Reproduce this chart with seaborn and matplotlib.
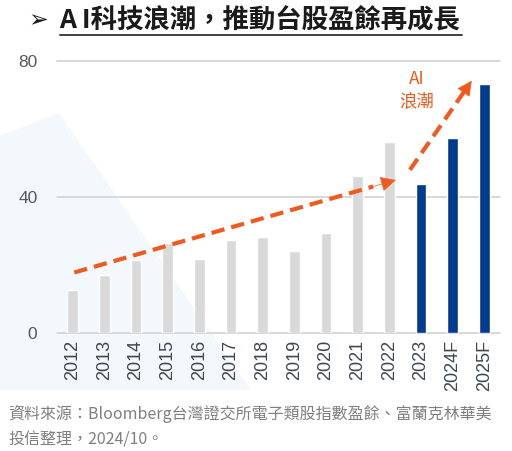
import matplotlib
matplotlib.use("Agg")
import matplotlib.pyplot as plt
import seaborn as sns
import pandas as pd
from matplotlib.lines import Line2D
from matplotlib.patches import Polygon

# ---- data ----
years = ["2012", "2013", "2014", "2015", "2016", "2017", "2018",
         "2019", "2020", "2021", "2022", "2023", "2024F", "2025F"]
earnings = [12.6, 17.2, 21.6, 26.4, 21.9, 27.4, 28.3,
            24.1, 29.5, 46.2, 56.2, 43.8, 57.5, 73.2]
highlight = [False] * 11 + [True] * 3

yticks = [0, 40, 80]

# trend arrows (category index, value)
trend_start = (0.05, 17.8)
trend_end = (10.2, 45.0)
ai_start = (10.65, 48.0)
ai_end = (12.6, 74.2)

title = "A I科技浪潮，推動台股盈餘再成長"
source_lines = ["資料來源：Bloomberg台灣證交所電子類股指數盈餘、富蘭克林華美",
                "投信整理，2024/10。"]

GRAY = "#D9D9D9"
BLUE = "#003B8E"
ORANGE = "#F05A1E"

sns.set_theme(style="white")
plt.rcParams["font.family"] = ["Noto Sans CJK TC", "DejaVu Sans"]

df = pd.DataFrame({"year": years, "eps": earnings, "hl": highlight})

fig = plt.figure(figsize=(5.12, 4.51), dpi=100)

# very faint blue wedge in the lower left
bg = Polygon([(0, 0.70), (0.115, 0.75), (0.49, 0.135), (0, 0.135)],
             closed=True, transform=fig.transFigure, facecolor="#F3F8FC",
             edgecolor="none", zorder=0)
fig.add_artist(bg)

ax = fig.add_axes([0.111, 0.2616, 0.866, 0.6031])
ax.set_facecolor("none")

palette = {y: (BLUE if h else GRAY) for y, h in zip(years, highlight)}
sns.barplot(data=df, x="year", y="eps", hue="year", palette=palette,
            legend=False, width=0.34, saturation=1, ax=ax, zorder=3)

ax.set_ylim(0, 80)
ax.set_xlim(-0.5, len(years) - 0.5)
ax.set_yticks(yticks)
ax.set_xlabel("")
ax.set_ylabel("")
for y in yticks:
    ax.axhline(y, color="#D6D6D6", lw=1.3, zorder=1, clip_on=False)
for s in ax.spines.values():
    s.set_visible(False)
ax.tick_params(axis="y", length=0, pad=14, labelsize=12.5, labelcolor="#595959")
ax.tick_params(axis="x", length=0, pad=5, labelsize=13, labelcolor="#3F4650",
               labelrotation=90)
for lab in ax.get_xticklabels() + ax.get_yticklabels():
    lab.set_family(["Liberation Sans", "DejaVu Sans"])

# dashed trend arrows
def dashed_arrow(p0, p1):
    frac = 0.93
    mid = (p0[0] + (p1[0] - p0[0]) * frac, p0[1] + (p1[1] - p0[1]) * frac)
    ax.plot([p0[0], mid[0]], [p0[1], mid[1]], color=ORANGE, lw=3,
            dashes=(3.2, 1.7), solid_capstyle="butt", zorder=5, clip_on=False)
    ax.annotate("", xy=p1, xytext=mid,
                arrowprops=dict(arrowstyle="-|>", color=ORANGE, lw=0.5,
                                mutation_scale=24, shrinkA=0, shrinkB=0),
                zorder=5, annotation_clip=False)

dashed_arrow(trend_start, trend_end)
dashed_arrow(ai_start, ai_end)

ax.text(10.87, 71.5, "AI\n浪潮", color=ORANGE, fontsize=12.5, ha="center",
        va="center", linespacing=1.3, zorder=6)

# title with underline
fig.text(0.074, 0.955, "➢", fontsize=17, fontweight="bold", color="#1A1A1A",
         ha="center", va="center", family=["DejaVu Sans"])
fig.text(0.116, 0.953, title, fontsize=19, fontweight="bold", color="#1A1A1A",
         ha="left", va="center")
fig.add_artist(Line2D([0.117, 0.902], [0.922, 0.922], transform=fig.transFigure,
                      color="#404040", lw=1.4))

fig.text(0.016, 0.083, source_lines[0], fontsize=11.5, color="#7F7F7F",
         ha="left", va="center")
fig.text(0.016, 0.025, source_lines[1], fontsize=11.5, color="#7F7F7F",
         ha="left", va="center")

fig.savefig("out.png", dpi=100)
